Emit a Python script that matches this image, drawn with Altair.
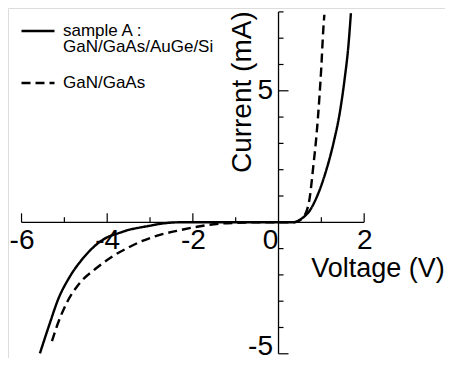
import altair as alt
import pandas as pd

FONT = "Liberation Sans"

# ---- data ----
SERIES = ["sample A : GaN/GaAs/AuGe/Si", "GaN/GaAs"]

V_A = [-5.57, -5.34, -5.15, -4.87, -4.56, -4.17, -4.0, -3.71, -3.5, -3.24, -3.0, -2.77,
       -2.3, -1.5, -0.5, 0.0, 0.35, 0.45, 0.58, 0.7, 0.89, 1.09,
       1.28, 1.44, 1.55, 1.63, 1.69]
I_A = [-4.98, -3.84, -2.95, -2.06, -1.36, -0.74, -0.57, -0.4, -0.29, -0.2, -0.13, -0.06,
       0.0, 0.0, 0.0, 0.0, 0.0, 0.05, 0.19, 0.38, 0.95, 1.85,
       2.99, 4.26, 5.53, 6.68, 7.95]

V_B = [-5.29, -5.15, -4.95, -4.64, -4.25, -3.86, -3.47, -3.24, -3.0, -2.77,
       -2.3, -1.83, -1.37, -1.0, -0.5, 0.0, 0.35, 0.5, 0.65, 0.73,
       0.81, 0.89, 0.95, 1.0, 1.04, 1.07]
I_B = [-4.52, -3.84, -3.08, -2.31, -1.74, -1.28, -0.93, -0.75, -0.6, -0.48,
       -0.3, -0.15, -0.05, -0.02, 0.0, 0.0, 0.0, 0.08, 0.4, 0.95,
       2.1, 3.37, 4.64, 5.92, 7.19, 7.89]

X_LABELS = [-6, -4, -2, 0, 2]
Y_LABELS = [-5, 5]
X_TICKS_MAJOR = [-6, -4, -2, 2]
X_TICKS_MINOR = [-5, -3, -1, 1]
Y_TICKS_MAJOR = [-5, 5]
Y_TICKS_MINOR = [-4, -3, -2, -1, 1, 2, 3, 4, 6, 7, 8]
X_AXIS_SPAN = [-6, 2]
Y_AXIS_SPAN = [-5, 8]
X_DOMAIN = [-6.316, 3.887]
Y_DOMAIN = [-5.16, 8.148]

W, H = 437, 350

lines_df = pd.concat([
    pd.DataFrame({"V": V_A, "I": I_A, "series": SERIES[0], "order": range(len(V_A))}),
    pd.DataFrame({"V": V_B, "I": I_B, "series": SERIES[1], "order": range(len(V_B))}),
])

xscale = alt.Scale(domain=X_DOMAIN, nice=False, zero=False)
yscale = alt.Scale(domain=Y_DOMAIN, nice=False, zero=False)

x_axis = alt.Axis(
    values=X_LABELS, orient="bottom", offset=-135.7, domain=False, ticks=False,
    tickSize=0, grid=False, labelFont=FONT, labelFontSize=28, labelColor="black",
    labelBaseline="alphabetic", labelPadding=26, labelFlush=False, labelOverlap=False,
    labelExpr="'' + datum.value",
    labelOffset={"condition": {"test": "datum.value === 0", "value": -8.5}, "value": 0},
    title="Voltage (V)", titleX=369.5, titleY=53.7, titleFont=FONT, titleFontSize=27,
    titleFontWeight="normal", titleColor="black", titleBaseline="alphabetic",
    titleAlign="center",
)
y_axis = alt.Axis(
    values=Y_LABELS, orient="left", offset=-270.5, domain=False, ticks=False,
    tickSize=0, grid=False, labelFont=FONT, labelFontSize=28, labelColor="black",
    labelAlign="right", labelBaseline="middle", labelPadding=6, labelFlush=False,
    labelOverlap=False, labelExpr="'' + datum.value",
    labelOffset={"condition": {"test": "datum.value === -5", "value": -7}, "value": 0},
    title="Current (mA)", titleX=-28, titleY=83.7, titleAngle=270, titleFont=FONT,
    titleFontSize=28, titleFontWeight="normal", titleColor="black",
    titleBaseline="alphabetic", titleAlign="center",
)

legend = alt.Legend(
    orient="none", legendX=12, legendY=5, title=None, direction="vertical",
    symbolType="stroke", symbolSize=1089, symbolStrokeWidth=2.4,
    symbolStrokeColor="black", labelFont=FONT, labelFontSize=17, labelColor="black",
    labelOffset=7, labelLimit=400, rowPadding=10, padding=0,
    labelExpr="datum.label === 'sample A : GaN/GaAs/AuGe/Si' ? ['sample A :', 'GaN/GaAs/AuGe/Si'] : datum.label",
)

curves = alt.Chart(lines_df).mark_line(
    color="black", strokeWidth=2.4, interpolate="monotone"
).encode(
    x=alt.X("V:Q", scale=xscale, axis=x_axis),
    y=alt.Y("I:Q", scale=yscale, axis=y_axis),
    strokeDash=alt.StrokeDash(
        "series:N",
        scale=alt.Scale(domain=SERIES, range=[[1, 0], [9, 5]]),
        legend=legend,
    ),
    order="order:Q",
)

xline_df = pd.DataFrame({"V": [X_AXIS_SPAN[0]], "V2": [X_AXIS_SPAN[1]], "I": [0]})
yline_df = pd.DataFrame({"V": [0], "I": [Y_AXIS_SPAN[0]], "I2": [Y_AXIS_SPAN[1]]})

xline = alt.Chart(xline_df).mark_rule(color="black", strokeWidth=1.3).encode(
    x="V:Q", x2="V2", y="I:Q")
yline = alt.Chart(yline_df).mark_rule(color="black", strokeWidth=1.3).encode(
    x="V:Q", y="I:Q", y2="I2")

xt_major = alt.Chart(pd.DataFrame({"V": X_TICKS_MAJOR, "I": 0})).mark_rule(
    color="black", strokeWidth=1.2, y2Offset=-9).encode(x="V:Q", y="I:Q", y2="I")
xt_minor = alt.Chart(pd.DataFrame({"V": X_TICKS_MINOR, "I": 0})).mark_rule(
    color="black", strokeWidth=1.2, y2Offset=-5).encode(x="V:Q", y="I:Q", y2="I")
yt_major = alt.Chart(pd.DataFrame({"I": Y_TICKS_MAJOR, "V": 0})).mark_rule(
    color="black", strokeWidth=1.2, x2Offset=10).encode(x="V:Q", x2="V", y="I:Q")
yt_minor = alt.Chart(pd.DataFrame({"I": Y_TICKS_MINOR, "V": 0})).mark_rule(
    color="black", strokeWidth=1.2, x2Offset=5).encode(x="V:Q", x2="V", y="I:Q")

chart = alt.layer(
    curves, xline, yline, xt_major, xt_minor, yt_major, yt_minor
).properties(
    width=W, height=H, autosize=alt.AutoSizeParams(type="none"), padding=0,
    background="white",
).configure_view(strokeWidth=0).configure(
    style={"guide-label": {"lineHeight": 16}}
)

chart.save("out.html", embed_options={"renderer": "svg", "actions": False})
